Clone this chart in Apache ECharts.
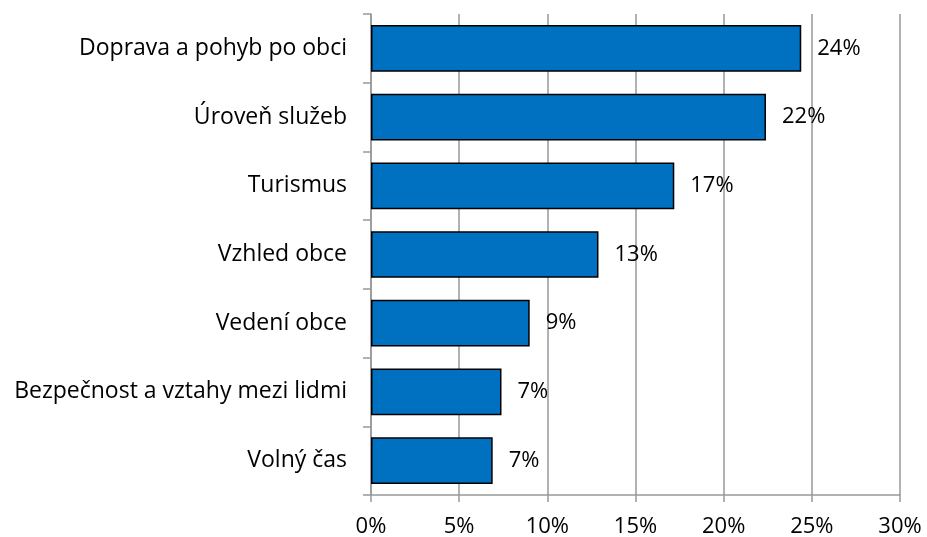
<!DOCTYPE html>
<html>
<head>
<meta charset="utf-8">
<script src="https://cdn.jsdelivr.net/npm/echarts@6/dist/echarts.min.js"></script>
<style>
  html, body { margin: 0; padding: 0; background: #fff; }
  #chart { width: 927px; height: 537px; }
</style>
</head>
<body>
<div id="chart"></div>
<script>
  // categories top to bottom
  var categories = [
    'Doprava a pohyb po obci',
    'Úroveň služeb',
    'Turismus',
    'Vzhled obce',
    'Vedení obce',
    'Bezpečnost a vztahy mezi lidmi',
    'Volný čas'
  ];
  // share of answers in percent
  var values = [24.4, 22.4, 17.2, 12.9, 9.0, 7.4, 6.9];

  var font = '"Open Sans", sans-serif';
  var chart = echarts.init(document.getElementById('chart'));
  chart.setOption({
    animation: false,
    grid: { left: 371, right: 27, top: 14, bottom: 42, outerBoundsMode: 'none' },
    xAxis: {
      type: 'value',
      min: 0,
      max: 30,
      interval: 5,
      axisLine: { show: true, lineStyle: { color: '#999', width: 1.5 } },
      axisTick: { show: true, length: 7, lineStyle: { color: '#999', width: 1.5 } },
      splitLine: { show: true, lineStyle: { color: '#999', width: 1.5 } },
      axisLabel: {
        formatter: '{value}%',
        color: '#000',
        fontSize: 22,
        fontFamily: font,
        margin: 21
      }
    },
    yAxis: {
      type: 'category',
      inverse: true,
      data: categories,
      axisLine: { show: true, lineStyle: { color: '#999', width: 1.5 } },
      axisTick: { show: true, length: 8, lineStyle: { color: '#999', width: 1.5 } },
      axisLabel: {
        color: '#000',
        fontSize: 23,
        fontFamily: font,
        margin: 24
      }
    },
    series: [{
      type: 'bar',
      data: values,
      barWidth: '68%',
      itemStyle: { color: '#0070C0', borderColor: '#000', borderWidth: 1.5 },
      label: {
        show: true,
        position: 'right',
        distance: 16,
        color: '#000',
        fontSize: 22,
        fontFamily: font,
        formatter: function (p) { return Math.round(p.value) + '%'; }
      }
    }]
  });
</script>
</body>
</html>
